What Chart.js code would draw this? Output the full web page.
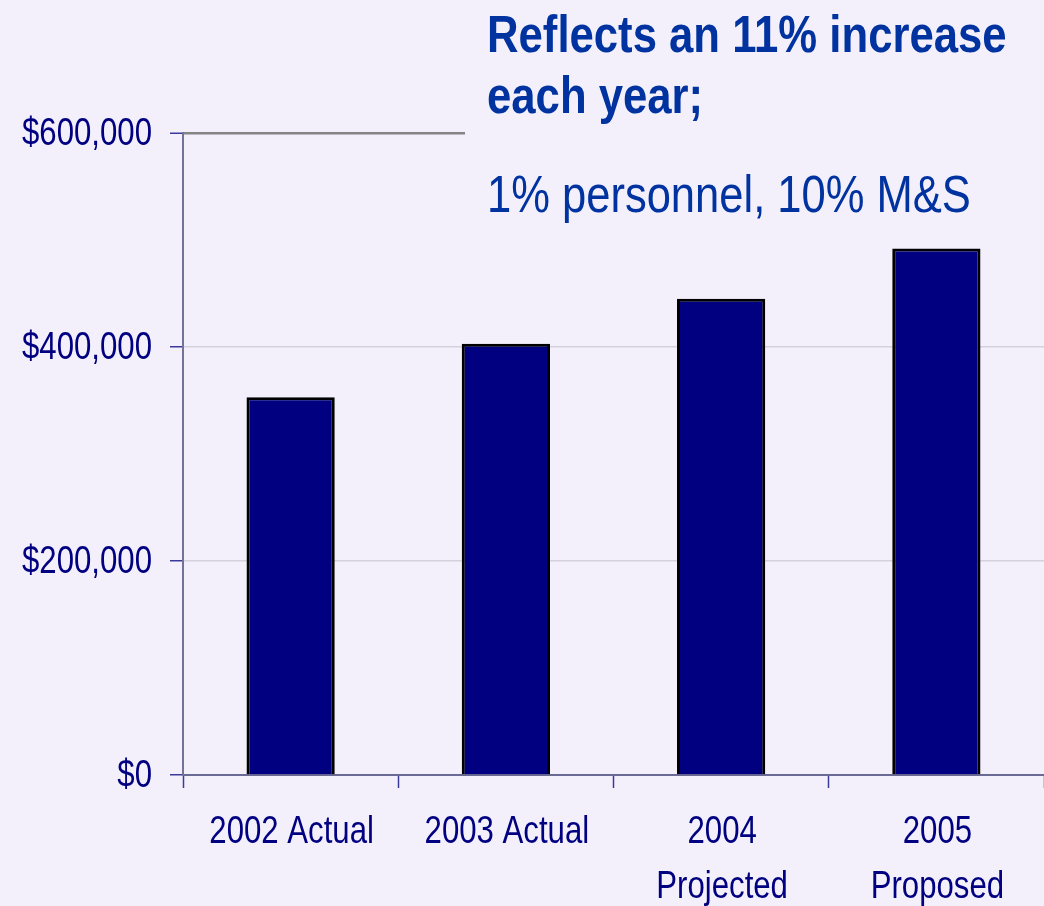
<!DOCTYPE html>
<html>
<head>
<meta charset="utf-8">
<script src="https://cdn.jsdelivr.net/npm/chart.js@4/dist/chart.umd.min.js"></script>
<style>
    html, body { margin: 0; padding: 0; background: #f3f0fc; }
    #wrap { width: 1044px; height: 906px; position: relative; }
</style>
</head>
<body>
<div id="wrap"><canvas id="budgetChart"></canvas></div>
<script>
const categories = ['2002 Actual', '2003 Actual', ['2004', 'Projected'], ['2005', 'Proposed']];
const budget = [353000, 403000, 445000, 492000];
const yTicks = [0, 200000, 400000, 600000];
const noteBold = ['Reflects an 11% increase', 'each year;'];
const noteLine = '1% personnel, 10% M&S';

// no narrow face installed, so text is squeezed by hand
const FONT = '"Liberation Sans", Arial, sans-serif';
const BG = '#f3f0fc';
const LABEL = '#000080';

function narrowText(ctx, text, x, y, k) {
    ctx.save();
    ctx.translate(x, y);
    ctx.scale(k, 1);
    ctx.fillText(text, 0, 0);
    ctx.restore();
}

/* ===============================
   AXIS LABELS
================================ */
const labelPlugin = {
    id: 'narrowLabels',
    afterDraw(chart) {
        const ctx = chart.ctx;
        const xs = chart.scales.x;
        const ys = chart.scales.y;
        ctx.save();
        ctx.fillStyle = LABEL;
        ctx.font = '38px ' + FONT;
        ctx.textBaseline = 'middle';

        ctx.textAlign = 'right';
        ys.ticks.forEach((t, i) => {
            narrowText(ctx, '$' + t.value.toLocaleString('en-US'), ys.right - 31, ys.getPixelForTick(i) + 2, 0.82);
        });

        ctx.textAlign = 'center';
        xs.ticks.forEach((t, i) => {
            const lines = [].concat(categories[i]);
            lines.forEach((line, j) => {
                narrowText(ctx, line, xs.getPixelForTick(i) + 1, xs.top + 58 + j * 55, 0.82);
            });
        });
        ctx.restore();
    }
};

/* ===============================
   NOTE IN THE TOP RIGHT
================================ */
const notePlugin = {
    id: 'note',
    afterDraw(chart) {
        const ctx = chart.ctx;
        ctx.save();
        ctx.fillStyle = BG;
        ctx.fillRect(465, 0, chart.width - 465, 225);
        ctx.fillStyle = '#0033a0';
        ctx.textAlign = 'left';
        ctx.textBaseline = 'alphabetic';
        ctx.font = 'bold 52px ' + FONT;
        narrowText(ctx, noteBold[0], 487, 52, 0.84);
        narrowText(ctx, noteBold[1], 487, 113, 0.84);
        ctx.font = '52px ' + FONT;
        narrowText(ctx, noteLine, 487, 212, 0.837);
        ctx.restore();
    }
};

new Chart(document.getElementById('budgetChart'), {
    type: 'bar',
    data: {
        labels: categories,
        datasets: [{
            data: budget,
            backgroundColor: '#000080',
            borderColor: '#000000',
            borderWidth: 3,
            barPercentage: 0.41,
            categoryPercentage: 1
        }]
    },
    options: {
        responsive: true,
        maintainAspectRatio: false,
        animation: false,
        layout: { padding: { top: 133, left: 0, right: 0, bottom: 0 } },
        plugins: {
            legend: { display: false },
            tooltip: { enabled: false }
        },
        scales: {
            x: {
                afterFit: s => { s.height = 131; },
                grid: {
                    offset: true,
                    drawOnChartArea: false,
                    tickLength: 13,
                    tickColor: '#3a3a9a',
                    tickWidth: 1.5
                },
                border: { color: '#6a6a94', width: 2 },
                ticks: {
                    color: 'rgba(0,0,0,0)',
                    font: { family: FONT, size: 38 },
                    maxRotation: 0,
                    autoSkip: false
                }
            },
            y: {
                min: 0,
                max: 600000,
                afterFit: s => { s.width = 183; },
                afterBuildTicks: s => { s.ticks = yTicks.map(v => ({ value: v })); },
                grid: {
                    color: c => c.tick && c.tick.value === 600000 ? '#858585' : '#d4d0dc',
                    lineWidth: c => c.tick && c.tick.value === 600000 ? 2.5 : 1.5,
                    tickLength: 13,
                    tickColor: '#3a3a9a',
                    tickWidth: 1.5
                },
                border: { color: '#72729a', width: 2 },
                ticks: {
                    color: 'rgba(0,0,0,0)',
                    font: { family: FONT, size: 38 }
                }
            }
        }
    },
    plugins: [labelPlugin, notePlugin]
});
</script>
</body>
</html>
